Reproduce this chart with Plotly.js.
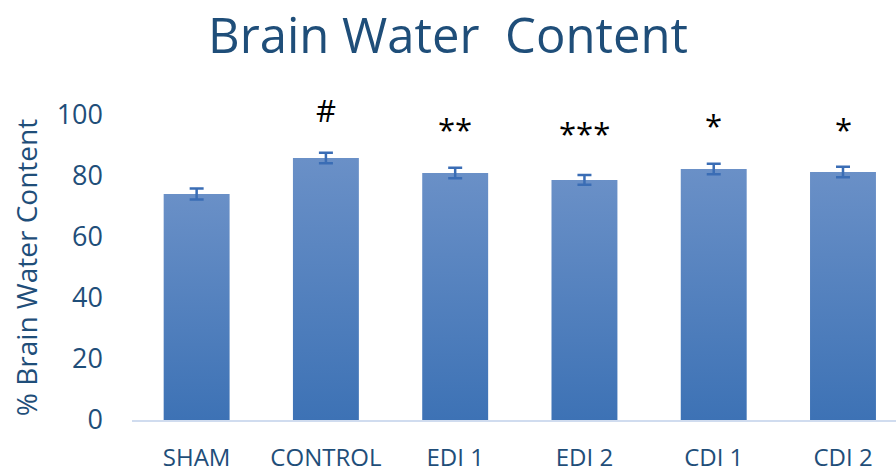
<!DOCTYPE html>
<html>
<head>
<meta charset="utf-8">
<script src="https://cdn.plot.ly/plotly-3.0.1.min.js"></script>
<style>
html,body{margin:0;padding:0;background:#fff;}
#chart{width:896px;height:474px;}
</style>
</head>
<body>
<div id="chart"></div>
<script>
var categories = ["SHAM", "CONTROL", "EDI 1", "EDI 2", "CDI 1", "CDI 2"];
var values = [74.1, 85.9, 81.0, 78.7, 82.3, 81.3];
var errors = [1.8, 1.7, 1.7, 1.6, 1.7, 1.7];
var sigLabels = ["", "#", "**", "***", "*", "*"];
var sigY = [0, 101.6, 95.4, 94.1, 96.7, 95.4];
var yTicks = [0, 20, 40, 60, 80, 100];
var yMax = 100;

var FONT = "Open Sans, sans-serif";
var DARK = "#1f4e79";

var trace = {
  type: "bar",
  x: categories,
  y: values,
  width: 0.51,
  marker: {color: "#5582c2", line: {width: 0}},
  error_y: {type: "data", array: errors, visible: true, color: "#3a6db5", thickness: 2.5, width: 7},
  hoverinfo: "none"
};

var annotations = [];
for (var i = 0; i < categories.length; i++) {
  if (!sigLabels[i]) continue;
  annotations.push({
    x: categories[i], y: sigY[i] / yMax, xref: "x", yref: "paper",
    xanchor: "center", yanchor: "middle",
    text: sigLabels[i], showarrow: false,
    font: {family: FONT, size: 31, color: "#000"}
  });
}

var layout = {
  width: 896, height: 474,
  margin: {l: 132, r: 0, t: 115, b: 54},
  paper_bgcolor: "#fff", plot_bgcolor: "#fff",
  showlegend: false,
  title: {text: "Brain Water  Content", font: {family: FONT, size: 49, color: DARK}, x: 0.5, xanchor: "center", xref: "container", yref: "container", y: 0.924, yanchor: "middle"},
  xaxis: {
    type: "category", range: [-0.5, 5.41],
    showline: true, linecolor: "#d0dcef", linewidth: 2,
    showgrid: false, zeroline: false, ticks: "",
    ticklabelstandoff: 15,
    tickfont: {family: FONT, size: 24, color: DARK}
  },
  yaxis: {
    range: [0, yMax], tickvals: yTicks, ticktext: yTicks.map(String),
    showline: false, showgrid: false, zeroline: false, ticks: "",
    ticklabelstandoff: 28,
    tickfont: {family: FONT, size: 27, color: DARK},
    title: {text: "% Brain Water Content", font: {family: FONT, size: 28, color: DARK}, standoff: 10}
  },
  annotations: annotations
};

Plotly.newPlot("chart", [trace], layout, {staticPlot: true, displayModeBar: false}).then(function (gd) {
  var svg = gd.querySelector("svg.main-svg");
  var ns = "http://www.w3.org/2000/svg";
  var defs = svg.querySelector("defs") || svg.insertBefore(document.createElementNS(ns, "defs"), svg.firstChild);
  var grad = document.createElementNS(ns, "linearGradient");
  grad.setAttribute("id", "barGrad");
  grad.setAttribute("x1", "0"); grad.setAttribute("y1", "0");
  grad.setAttribute("x2", "0"); grad.setAttribute("y2", "1");
  var s1 = document.createElementNS(ns, "stop");
  s1.setAttribute("offset", "0"); s1.setAttribute("stop-color", "#6a90c7");
  var s2 = document.createElementNS(ns, "stop");
  s2.setAttribute("offset", "1"); s2.setAttribute("stop-color", "#3d72b5");
  grad.appendChild(s1); grad.appendChild(s2);
  defs.appendChild(grad);
  gd.querySelectorAll(".bars .point path").forEach(function (p) {
    p.style.fill = "url(#barGrad)";
  });
});
</script>
</body>
</html>
